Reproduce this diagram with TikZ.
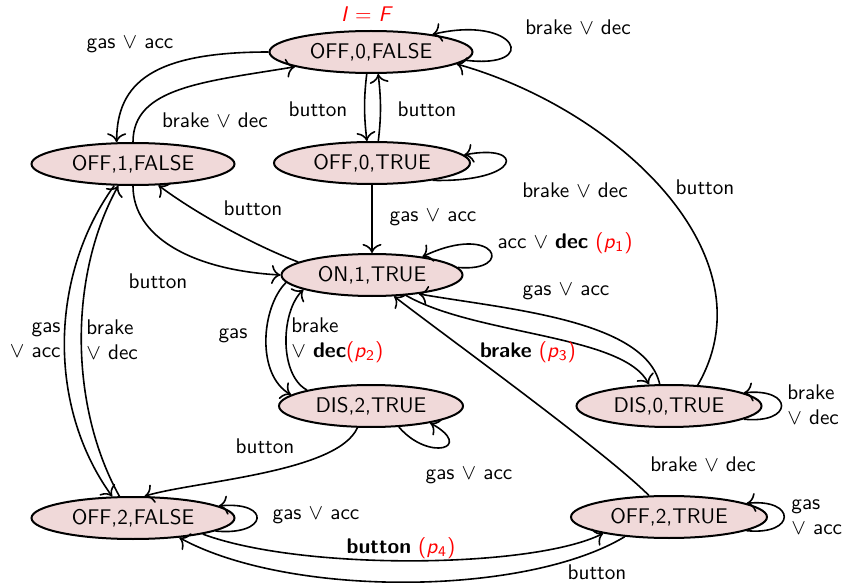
\documentclass[tikz,border=0pt]{standalone}
\usepackage{fontspec}
\usetikzlibrary{shapes.geometric,arrows.meta}
\definecolor{statefill}{RGB}{240,217,217}
% red property tag (p_i)
\newcommand{\ptag}[1]{\textcolor{red}{(\textit{p}\textsubscript{#1})}}
\newcommand{\myor}{$\vee$}
\begin{document}
\begin{tikzpicture}[x=0.5pt,y=0.5pt,
  every node/.style={font=\sffamily\fontsize{10.6}{12.5}\selectfont},
  state/.style={ellipse, draw, line width=1pt, fill=statefill,
                minimum height=21pt, inner sep=0pt},
  lbl/.style={inner sep=0pt},
  tr/.style={-{To[scale=1.35]}, line width=0.8pt}]
\useasboundingbox (0,0) rectangle (847,-583);

% states
\node[state, minimum width=101.5pt] (f0) at (371,-52)  {OFF,0,FALSE};
\node[state, minimum width=101.5pt] (f1) at (133,-164) {OFF,1,FALSE};
\node[state, minimum width=98pt]    (t0) at (372,-163) {OFF,0,TRUE};
\node[state, minimum width=90.5pt]  (on) at (372,-275) {ON,1,TRUE};
\node[state, minimum width=92pt]    (d2) at (371,-406) {DIS,2,TRUE};
\node[state, minimum width=92.5pt]  (d0) at (669,-406) {DIS,0,TRUE};
\node[state, minimum width=101.5pt] (f2) at (133,-518) {OFF,2,FALSE};
\node[state, minimum width=98pt]    (t2) at (669,-517) {OFF,2,TRUE};

% initial state marker
\node[lbl, text=red] (init) at (367,-14) {\textit{I} = \textit{F}};

% transitions
\draw[tr] (f0.-5) .. controls +(75,-9) and +(85,20) .. (f0.16);
\draw[tr] (f0.180) .. controls +(-115,0) and +(0,60) .. (f1.127);
\draw[tr] (f1.90) .. controls +(0,55) and +(-90,-15) .. (f0.191);
\draw[tr] (f0.259) .. controls +(-3,-25) and +(-3,25) .. (t0.103);
\draw[tr] (t0.74) .. controls +(3,25) and +(3,-25) .. (f0.-72);
\draw[tr] (t0.-16) .. controls +(90,-2) and +(62,12) .. (t0.5);
\draw[tr] (t0) -- (on);
\draw[tr] (on.5) .. controls +(58,-5) and +(74,35) .. (on.20);
\draw[tr] (on.170) .. controls +(-40,15) and +(40,-30) .. (f1.-40);
\draw[tr] (f1.-90) .. controls +(0,-50) and +(-90,5) .. (on.180);
\draw[tr] (on.-31) .. controls +(70,-40) and +(-25,50) .. (d0.133);
\draw[tr] (d0.113) .. controls +(-15,65) and +(85,-15) .. (on.-22);
\draw[tr] (d0.36) .. controls +(75,130) and +(160,-45) .. (f0.-8);
\draw[tr] (d0.-10) .. controls +(50,-5) and +(50,5) .. (d0.10);
\draw[tr] (on.185) .. controls +(-25,-25) and +(-35,20) .. (d2.172);
\draw[tr] (d2.166) .. controls +(-28,15) and +(-23,-22) .. (on.192);
\draw[tr] (d2.-37) .. controls +(30,-35) and +(45,-25) .. (d2.-16);
\draw[tr] (d2.238) .. controls +(-20,-45) and +(50,15) .. (f2.62);
\draw[tr] (t2.133) .. controls +(-45,45) and +(45,-35) .. (on.-44);
\draw[tr] (f1.229) .. controls +(-65,-90) and +(-65,90) .. (f2.134);
\draw[tr] (f2.122) .. controls +(-50,90) and +(-50,-90) .. (f1.236);
\draw[tr] (f2.-9) .. controls +(53,-5) and +(53,5) .. (f2.8);
\draw[tr] (f2.-13) .. controls +(100,-37) and +(-70,-35) .. (t2.194);
\draw[tr] (t2.204) .. controls +(-100,-60) and +(110,-60) .. (f2.-23);
\draw[tr] (t2.-10) .. controls +(50,-5) and +(50,5) .. (t2.10);

% transition labels
\node[lbl] (l1)  at (578,-27)  {brake \myor{} dec};
\node[lbl] (l2)  at (130,-45)  {gas \myor{} acc};
\node[lbl] (l3)  at (215,-120) {brake \myor{} dec};
\node[lbl] (l4)  at (318,-109) {button};
\node[lbl] (l5)  at (427,-109) {button};
\node[lbl] (l6)  at (575,-190) {brake \myor{} dec};
\node[lbl] (l7)  at (705,-187) {button};
\node[lbl] (l8)  at (433,-218) {gas \myor{} acc};
\node[lbl] (l9)  at (253,-208) {button};
\node[lbl] (l10) at (565,-243) {acc \myor{} \textbf{dec} \ptag{1}};
\node[lbl] (l11) at (158,-281) {button};
\node[lbl] (l12) at (566,-292) {gas \myor{} acc};
\node[lbl, align=right, anchor=east] (l13) at (61,-340) {gas\\\myor{} acc};
\node[lbl, align=left, anchor=west]  (l14) at (86,-340) {brake\\\myor{} dec};
\node[lbl] (l15) at (233,-336) {gas};
\node[lbl, align=left, anchor=west]  (l16) at (291,-340) {brake\\\myor{} \textbf{dec}\ptag{2}};
\node[lbl] (l17) at (528,-352) {\textbf{brake} \ptag{3}};
\node[lbl, align=left, anchor=west]  (l18) at (787,-405) {brake\\\myor{} dec};
\node[lbl] (l19) at (265,-446) {button};
\node[lbl] (l20) at (469,-476) {gas \myor{} acc};
\node[lbl] (l21) at (703,-464) {brake \myor{} dec};
\node[lbl] (l22) at (316,-516) {gas \myor{} acc};
\node[lbl] (l23) at (401,-548) {\textbf{button} \ptag{4}};
\node[lbl, align=left, anchor=west]  (l24) at (791,-517) {gas\\\myor{} acc};
\node[lbl] (l25) at (597,-572) {button};
\end{tikzpicture}
\end{document}
